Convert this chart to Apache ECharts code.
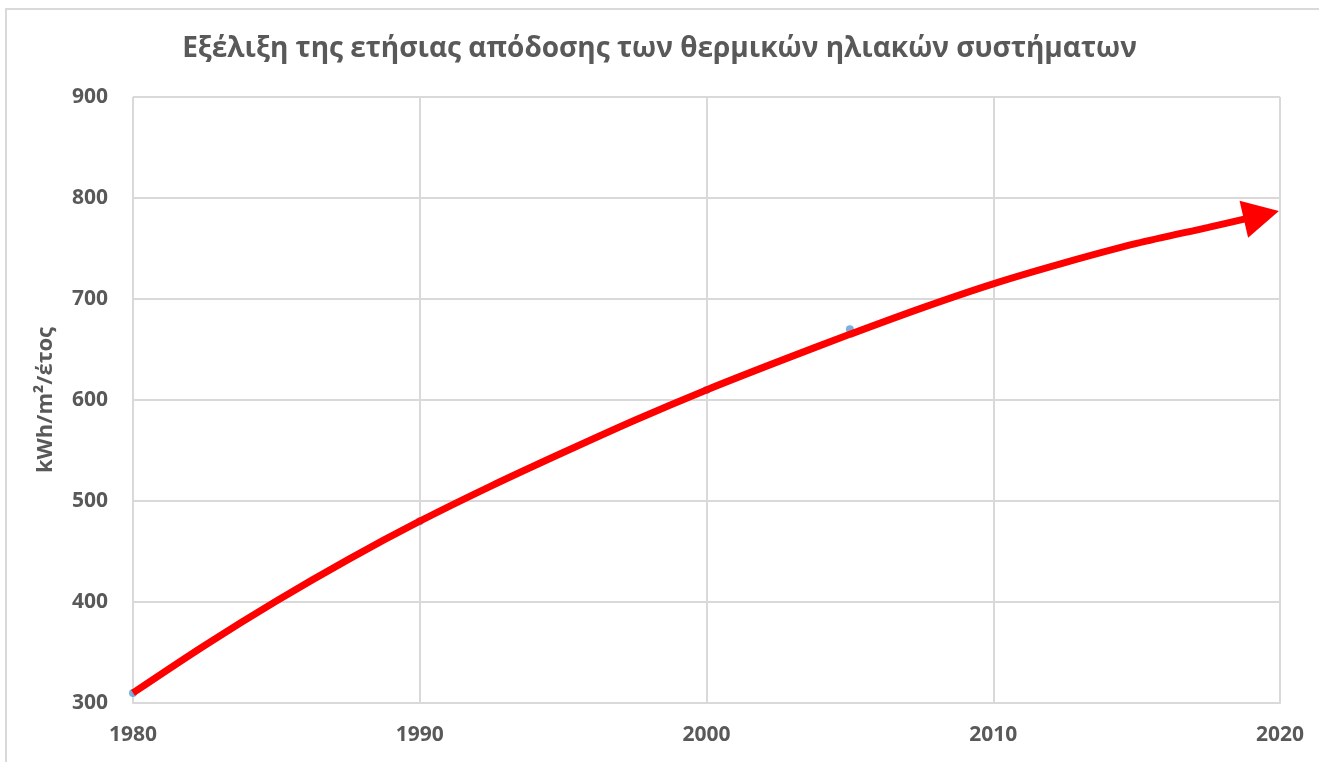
<!DOCTYPE html>
<html>
<head>
<meta charset="utf-8">
<script src="https://cdn.jsdelivr.net/npm/echarts@6/dist/echarts.min.js"></script>
<style>
html, body { margin: 0; padding: 0; background: #fff; }
#chart { width: 1319px; height: 762px; }
</style>
</head>
<body>
<div id="chart"></div>
<script>
// measured points (blue dots)
var pointYears = [1980, 1990, 2000, 2005];
var pointValues = [310, 480, 610, 670];

// trend curve (last point carries the arrow head)
var trendYears = [1980, 1982.5, 1985, 1987.5, 1990, 1992.5, 1995, 1997.5, 2000, 2002.5, 2005, 2007.5, 2010, 2012.5, 2015, 2017.5, 2019.35];
var trendValues = [310, 357, 401, 442, 480, 515, 548, 580, 610, 638, 665, 691, 715, 736, 755, 771, 783];

var xTicks = [1980, 1990, 2000, 2010, 2020];
var yTicks = [300, 400, 500, 600, 700, 800, 900];

var textColor = '#595959';
var gridColor = '#D9D9D9';
var font = 'Open Sans';

var chart = echarts.init(document.getElementById('chart'));

var trendData = [];
for (var i = 0; i < trendYears.length; i++) {
    var item = { value: [trendYears[i], trendValues[i]] };
    if (i == trendYears.length - 1) {
        item.symbol = 'triangle';
        item.symbolSize = [38, 36];
        item.symbolRotate = -77;
        item.itemStyle = { color: '#FF0000' };
    }
    trendData.push(item);
}

var pointData = [];
for (var j = 0; j < pointYears.length; j++) {
    pointData.push([pointYears[j], pointValues[j]]);
}

var option = {
    backgroundColor: '#fff',
    animation: false,
    title: {
        text: 'Εξέλιξη της ετήσιας απόδοσης των θερμικών ηλιακών συστήματων',
        left: 'center',
        top: 30,
        textStyle: {
            color: textColor,
            fontFamily: font,
            fontWeight: 'bold',
            fontSize: 28
        }
    },
    graphic: [{
        type: 'rect',
        shape: { x: 6, y: 9, width: 1400, height: 900 },
        style: { fill: 'none', stroke: gridColor, lineWidth: 2 },
        silent: true
    }],
    grid: {
        left: 133,
        right: 39,
        top: 97,
        bottom: 59
    },
    xAxis: {
        type: 'value',
        min: xTicks[0],
        max: xTicks[xTicks.length - 1],
        interval: 10,
        axisLine: { show: true, lineStyle: { color: gridColor, width: 2 } },
        axisTick: { show: false },
        splitLine: { show: true, lineStyle: { color: gridColor, width: 2 } },
        axisLabel: {
            color: textColor,
            fontFamily: font,
            fontWeight: 'bold',
            fontSize: 21,
            margin: 22,
            formatter: function (v) { return String(v); }
        }
    },
    yAxis: {
        type: 'value',
        min: yTicks[0],
        max: yTicks[yTicks.length - 1],
        interval: 100,
        name: 'kWh/m²/έτος',
        nameLocation: 'middle',
        nameGap: 76,
        nameTextStyle: {
            color: textColor,
            fontFamily: font,
            fontWeight: 'bold',
            fontSize: 22
        },
        axisLine: { show: false },
        axisTick: { show: false },
        splitLine: { show: true, lineStyle: { color: gridColor, width: 2 } },
        axisLabel: {
            color: textColor,
            fontFamily: font,
            fontWeight: 'bold',
            fontSize: 21,
            margin: 25
        }
    },
    series: [
        {
            name: 'points',
            type: 'scatter',
            data: pointData,
            symbolSize: 8,
            itemStyle: { color: '#5B9BD5' },
            z: 2
        },
        {
            name: 'trend',
            type: 'line',
            data: trendData,
            smooth: 0.3,
            showSymbol: true,
            symbol: 'none',
            clip: false,
            lineStyle: { color: '#FF0000', width: 7 },
            itemStyle: { color: '#FF0000' },
            z: 3
        }
    ]
};

chart.setOption(option);
</script>
</body>
</html>
